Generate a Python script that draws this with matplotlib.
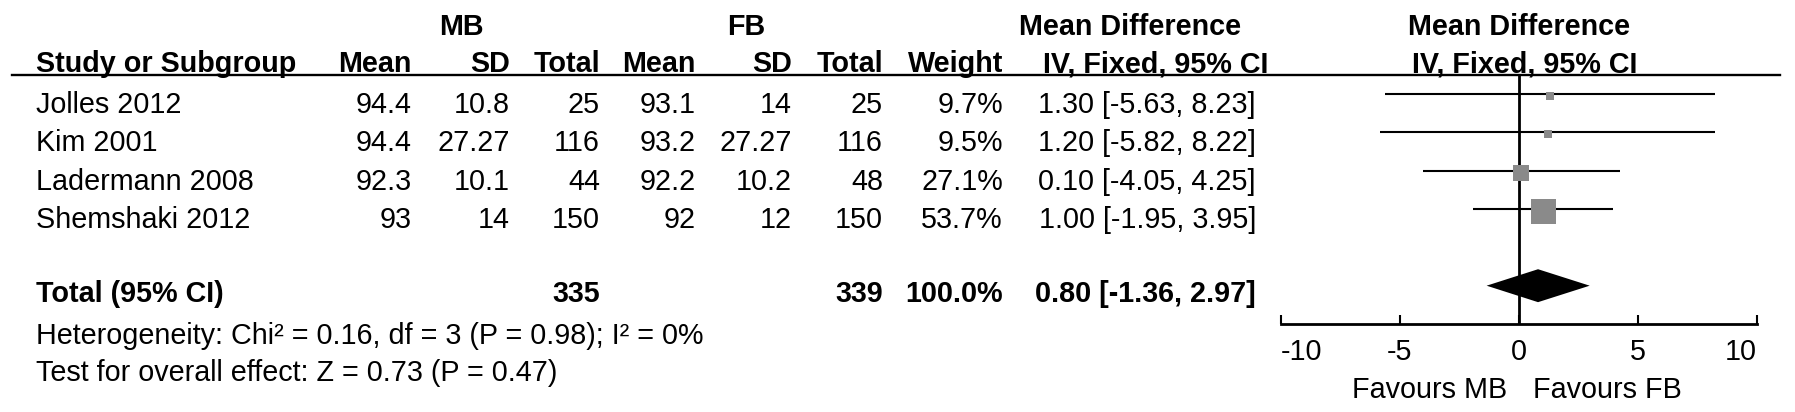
import matplotlib.pyplot as plt
import numpy as np

# data
studies = ["Jolles 2012", "Kim 2001", "Ladermann 2008", "Shemshaki 2012"]
mb_mean = [94.4, 94.4, 92.3, 93]
mb_sd = [10.8, 27.27, 10.1, 14]
mb_n = [25, 116, 44, 150]
fb_mean = [93.1, 93.2, 92.2, 92]
fb_sd = [14, 27.27, 10.2, 12]
fb_n = [25, 116, 48, 150]
weights = [9.7, 9.5, 27.1, 53.7]
md = [1.30, 1.20, 0.10, 1.00]
ci_lo = [-5.63, -5.82, -4.05, -1.95]
ci_hi = [8.23, 8.22, 4.25, 3.95]

total_mb, total_fb = 335, 339
total_w = 100.0
total_md, total_lo, total_hi = 0.80, -1.36, 2.97
heterogeneity = "Heterogeneity: Chi² = 0.16, df = 3 (P = 0.98); I² = 0%"
overall = "Test for overall effect: Z = 0.73 (P = 0.47)"
xticks = [-10, -5, 0, 5, 10]
xtick_labels = ["-10", "-5", "0", "5", "10"]

plt.rcParams['font.family'] = ['Liberation Sans', 'DejaVu Sans']

W, H = 1795, 412
fig = plt.figure(figsize=(W / 100, H / 100), dpi=100)
fs = 20.7

# table part, drawn in pixel coordinates
tab = fig.add_axes([0, 0, 1, 1])
tab.set_xlim(0, W)
tab.set_ylim(H, 0)
tab.axis('off')

row0, step = 113, 38.31   # baseline of first study row, row pitch
cols_right = [412, 510, 600, 696, 792, 883, 1003]
ci_right = 1256

# headers
tab.text(461, 35, "MB", ha='center', va='baseline', fontsize=fs, weight='bold')
tab.text(746, 35, "FB", ha='center', va='baseline', fontsize=fs, weight='bold')
tab.text(1130, 35, "Mean Difference", ha='center', va='baseline', fontsize=fs, weight='bold')
tab.text(1519, 35, "Mean Difference", ha='center', va='baseline', fontsize=fs, weight='bold')
tab.text(36, 72, "Study or Subgroup", ha='left', va='baseline', fontsize=fs, weight='bold')
for x, h in zip(cols_right, ["Mean", "SD", "Total", "Mean", "SD", "Total", "Weight"]):
    tab.text(x, 72, h, ha='right', va='baseline', fontsize=fs, weight='bold')
tab.text(1043, 72, "IV, Fixed, 95% CI", ha='left', va='baseline', fontsize=fs, weight='bold')
tab.text(1525, 72, "IV, Fixed, 95% CI", ha='center', va='baseline', fontsize=fs, weight='bold')
tab.plot([12, 1780], [75, 75], color='black', lw=1.7)

# study rows
for i, name in enumerate(studies):
    y = row0 + i * step
    tab.text(36, y, name, ha='left', va='baseline', fontsize=fs)
    vals = [f"{mb_mean[i]:g}", f"{mb_sd[i]:g}", f"{mb_n[i]}",
            f"{fb_mean[i]:g}", f"{fb_sd[i]:g}", f"{fb_n[i]}",
            f"{weights[i]:.1f}%"]
    for x, v in zip(cols_right, vals):
        tab.text(x, y, v, ha='right', va='baseline', fontsize=fs)
    tab.text(ci_right, y, f"{md[i]:.2f} [{ci_lo[i]:.2f}, {ci_hi[i]:.2f}]",
             ha='right', va='baseline', fontsize=fs)

# total row
yt = 302
tab.text(36, yt, "Total (95% CI)", ha='left', va='baseline', fontsize=fs, weight='bold')
tab.text(cols_right[2], yt, f"{total_mb}", ha='right', va='baseline', fontsize=fs, weight='bold')
tab.text(cols_right[5], yt, f"{total_fb}", ha='right', va='baseline', fontsize=fs, weight='bold')
tab.text(cols_right[6], yt, f"{total_w:.1f}%", ha='right', va='baseline', fontsize=fs, weight='bold')
tab.text(ci_right, yt, f"{total_md:.2f} [{total_lo:.2f}, {total_hi:.2f}]",
         ha='right', va='baseline', fontsize=fs, weight='bold')
tab.text(36, 344, heterogeneity, ha='left', va='baseline', fontsize=fs)
tab.text(36, 381, overall, ha='left', va='baseline', fontsize=fs)

# forest plot
x0, x1, y_top, y_bot = 1281, 1757, 75, 324
ax = fig.add_axes([x0 / W, 1 - y_bot / H, (x1 - x0) / W, (y_bot - y_top) / H], facecolor='none')
ax.set_xlim(-10, 10)
ax.set_ylim(6, -0.5)
rows = np.arange(len(studies))
ax.hlines(rows, ci_lo, ci_hi, color='black', lw=1.5)
for r, m, w in zip(rows, md, weights):
    side = 25 * (w / max(weights)) ** 0.66 * 0.72
    ax.plot(m, r + 0.05, marker='s', ms=side, color='#8a8a8a', mew=0, zorder=3)
ax.fill([total_lo, total_md, total_hi, total_md], [5, 4.57, 5, 5.43], color='black', lw=0, zorder=3)
ax.axvline(0, color='black', lw=2)

for s in ['top', 'left', 'right']:
    ax.spines[s].set_visible(False)
ax.spines['bottom'].set_linewidth(2)
ax.set_yticks([])
ax.set_xticks(xticks)
ax.set_xticklabels(xtick_labels)
ax.set_xticks([xticks[0], xticks[-1]], minor=True)
ax.tick_params(axis='x', which='major', direction='in', length=6.5, width=1.5, pad=10, labelsize=fs)
ax.tick_params(axis='x', which='minor', direction='inout', length=13.5, width=1.5)
labels = ax.get_xticklabels()
labels[0].set_ha('left')
labels[-1].set_ha('right')

ax.text(-0.5, 7.93, "Favours MB", ha='right', va='baseline', fontsize=fs, clip_on=False)
ax.text(0.59, 7.93, "Favours FB", ha='left', va='baseline', fontsize=fs, clip_on=False)

fig.savefig("out.png", dpi=100)
